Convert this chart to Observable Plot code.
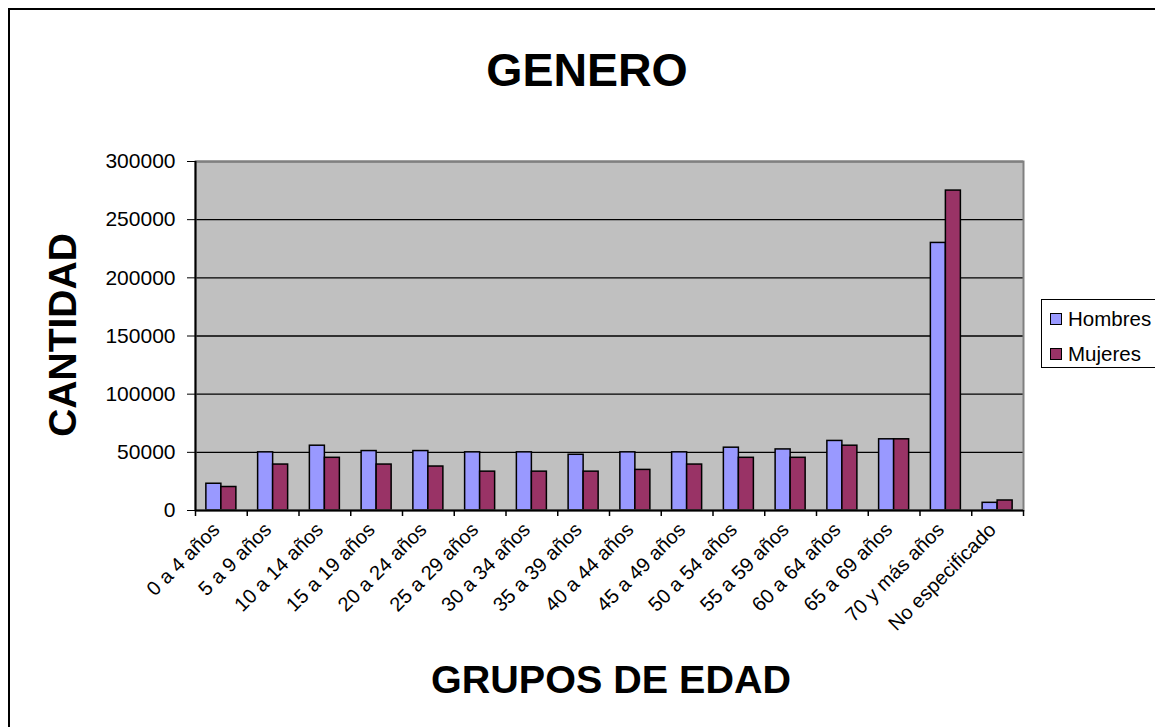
<!DOCTYPE html>
<html>
<head>
<meta charset="utf-8">
<script src="https://cdn.jsdelivr.net/npm/d3@7"></script>
<script src="https://cdn.jsdelivr.net/npm/@observablehq/plot@0.6"></script>
<style>
  html, body { margin: 0; padding: 0; width: 1155px; height: 727px; overflow: hidden; background: #fff; }
  body { position: relative; font-family: "Liberation Sans", Arial, sans-serif; }
  #frame { position: absolute; left: 8px; top: 8px; width: 1200px; height: 760px; border: 2px solid #000; box-sizing: border-box; }
  #chart { position: absolute; left: 0; top: 0; }
  .title { position: absolute; font-weight: bold; color: #000; white-space: nowrap; }
  #t-main { left: 587px; top: 70px; transform: translate(-50%, -50%); font-size: 46.5px; }
  #t-y { left: 63px; top: 335px; transform: translate(-50%, -50%) rotate(-90deg); font-size: 39px; }
  #t-x { left: 611px; top: 679px; transform: translate(-50%, -50%); font-size: 39.5px; }
  #legend { position: absolute; left: 1041px; top: 299px; width: 130px; height: 69px; border: 1px solid #000; box-sizing: border-box; background: #fff; }
  .item { position: absolute; left: 8px; font-size: 20.5px; line-height: 20px; display: flex; align-items: center; }
  .sw { width: 10px; height: 10px; border: 1px solid #000; margin-right: 6px; }
</style>
</head>
<body>
<div id="frame"></div>
<div id="chart"></div>
<div class="title" id="t-main">GENERO</div>
<div class="title" id="t-y">CANTIDAD</div>
<div class="title" id="t-x">GRUPOS DE EDAD</div>
<div id="legend"></div>
<script>
const categories = ["0 a 4 años","5 a 9 años","10 a 14 años","15 a 19 años","20 a 24 años","25 a 29 años","30 a 34 años","35 a 39 años","40 a 44 años","45 a 49 años","50 a 54 años","55 a 59 años","60 a 64 años","65 a 69 años","70 y más años","No especificado"];
const hombres = [23000,50000,55700,51100,51100,50000,50000,47900,50000,50000,54000,52500,59800,61200,230000,6600];
const mujeres = [20200,39500,45300,39500,37800,33400,33400,33400,34900,39500,45300,45300,55700,61200,275000,8600];
const series = ["Hombres","Mujeres"];
const colors = ["#9999FF","#993366"];
const yTicks = [0,50000,100000,150000,200000,250000,300000];

const data = [];
categories.forEach((c, i) => {
  data.push({cat: c, i, serie: "Hombres", k: 0, value: hombres[i]});
  data.push({cat: c, i, serie: "Mujeres", k: 1, value: mujeres[i]});
});

const groupPad = 0.21;
const barW = (1 - 2 * groupPad) / 2;
const font = "Liberation Sans, Arial, sans-serif";

const chart = Plot.plot({
  width: 1155,
  height: 727,
  marginLeft: 195,
  marginRight: 132,
  marginTop: 161,
  marginBottom: 217,
  style: {fontFamily: font, fontSize: "20px", color: "#000", background: "transparent", overflow: "visible"},
  x: {domain: [0, categories.length], axis: null},
  y: {domain: [0, 300000], axis: null},
  color: {domain: series, range: colors},
  marks: [
    Plot.frame({fill: "#C0C0C0", stroke: null}),
    Plot.gridY(yTicks.filter(d => d > 0), {stroke: "#000", strokeOpacity: 1, strokeWidth: 1.3}),
    Plot.rectY(data, {
      x1: d => d.i + groupPad + d.k * barW,
      x2: d => d.i + groupPad + (d.k + 1) * barW,
      y1: 0,
      y2: "value",
      fill: "serie",
      stroke: "#000",
      strokeWidth: 1.5
    }),
    Plot.frame({stroke: "#808080", strokeWidth: 2}),
    Plot.ruleX([0], {stroke: "#000", strokeWidth: 2}),
    Plot.ruleY([0], {stroke: "#000", strokeWidth: 2}),
    Plot.axisY({ticks: yTicks, tickFormat: d => String(d), tickSize: 8, tickPadding: 12, fontSize: 21, label: null, stroke: "#000"}),
    Plot.axisX({ticks: d3.range(categories.length + 1), tickFormat: () => "", tickSize: 6, label: null, strokeWidth: 1.5}),
    Plot.axisX({
      ticks: categories.map((c, i) => i + 0.5),
      tickFormat: d => categories[Math.floor(d)],
      tickSize: 0,
      tickPadding: 12,
      tickRotate: -45,
      fontSize: 20,
      dx: -5,
      dy: 4,
      label: null
    })
  ]
});
document.getElementById("chart").appendChild(chart);

const legend = document.getElementById("legend");
series.forEach((s, j) => {
  const it = document.createElement("div");
  it.className = "item";
  it.style.top = (9 + j * 35) + "px";
  it.innerHTML = `<span class="sw" style="background:${colors[j]}"></span>${s}`;
  legend.appendChild(it);
});
</script>
</body>
</html>
